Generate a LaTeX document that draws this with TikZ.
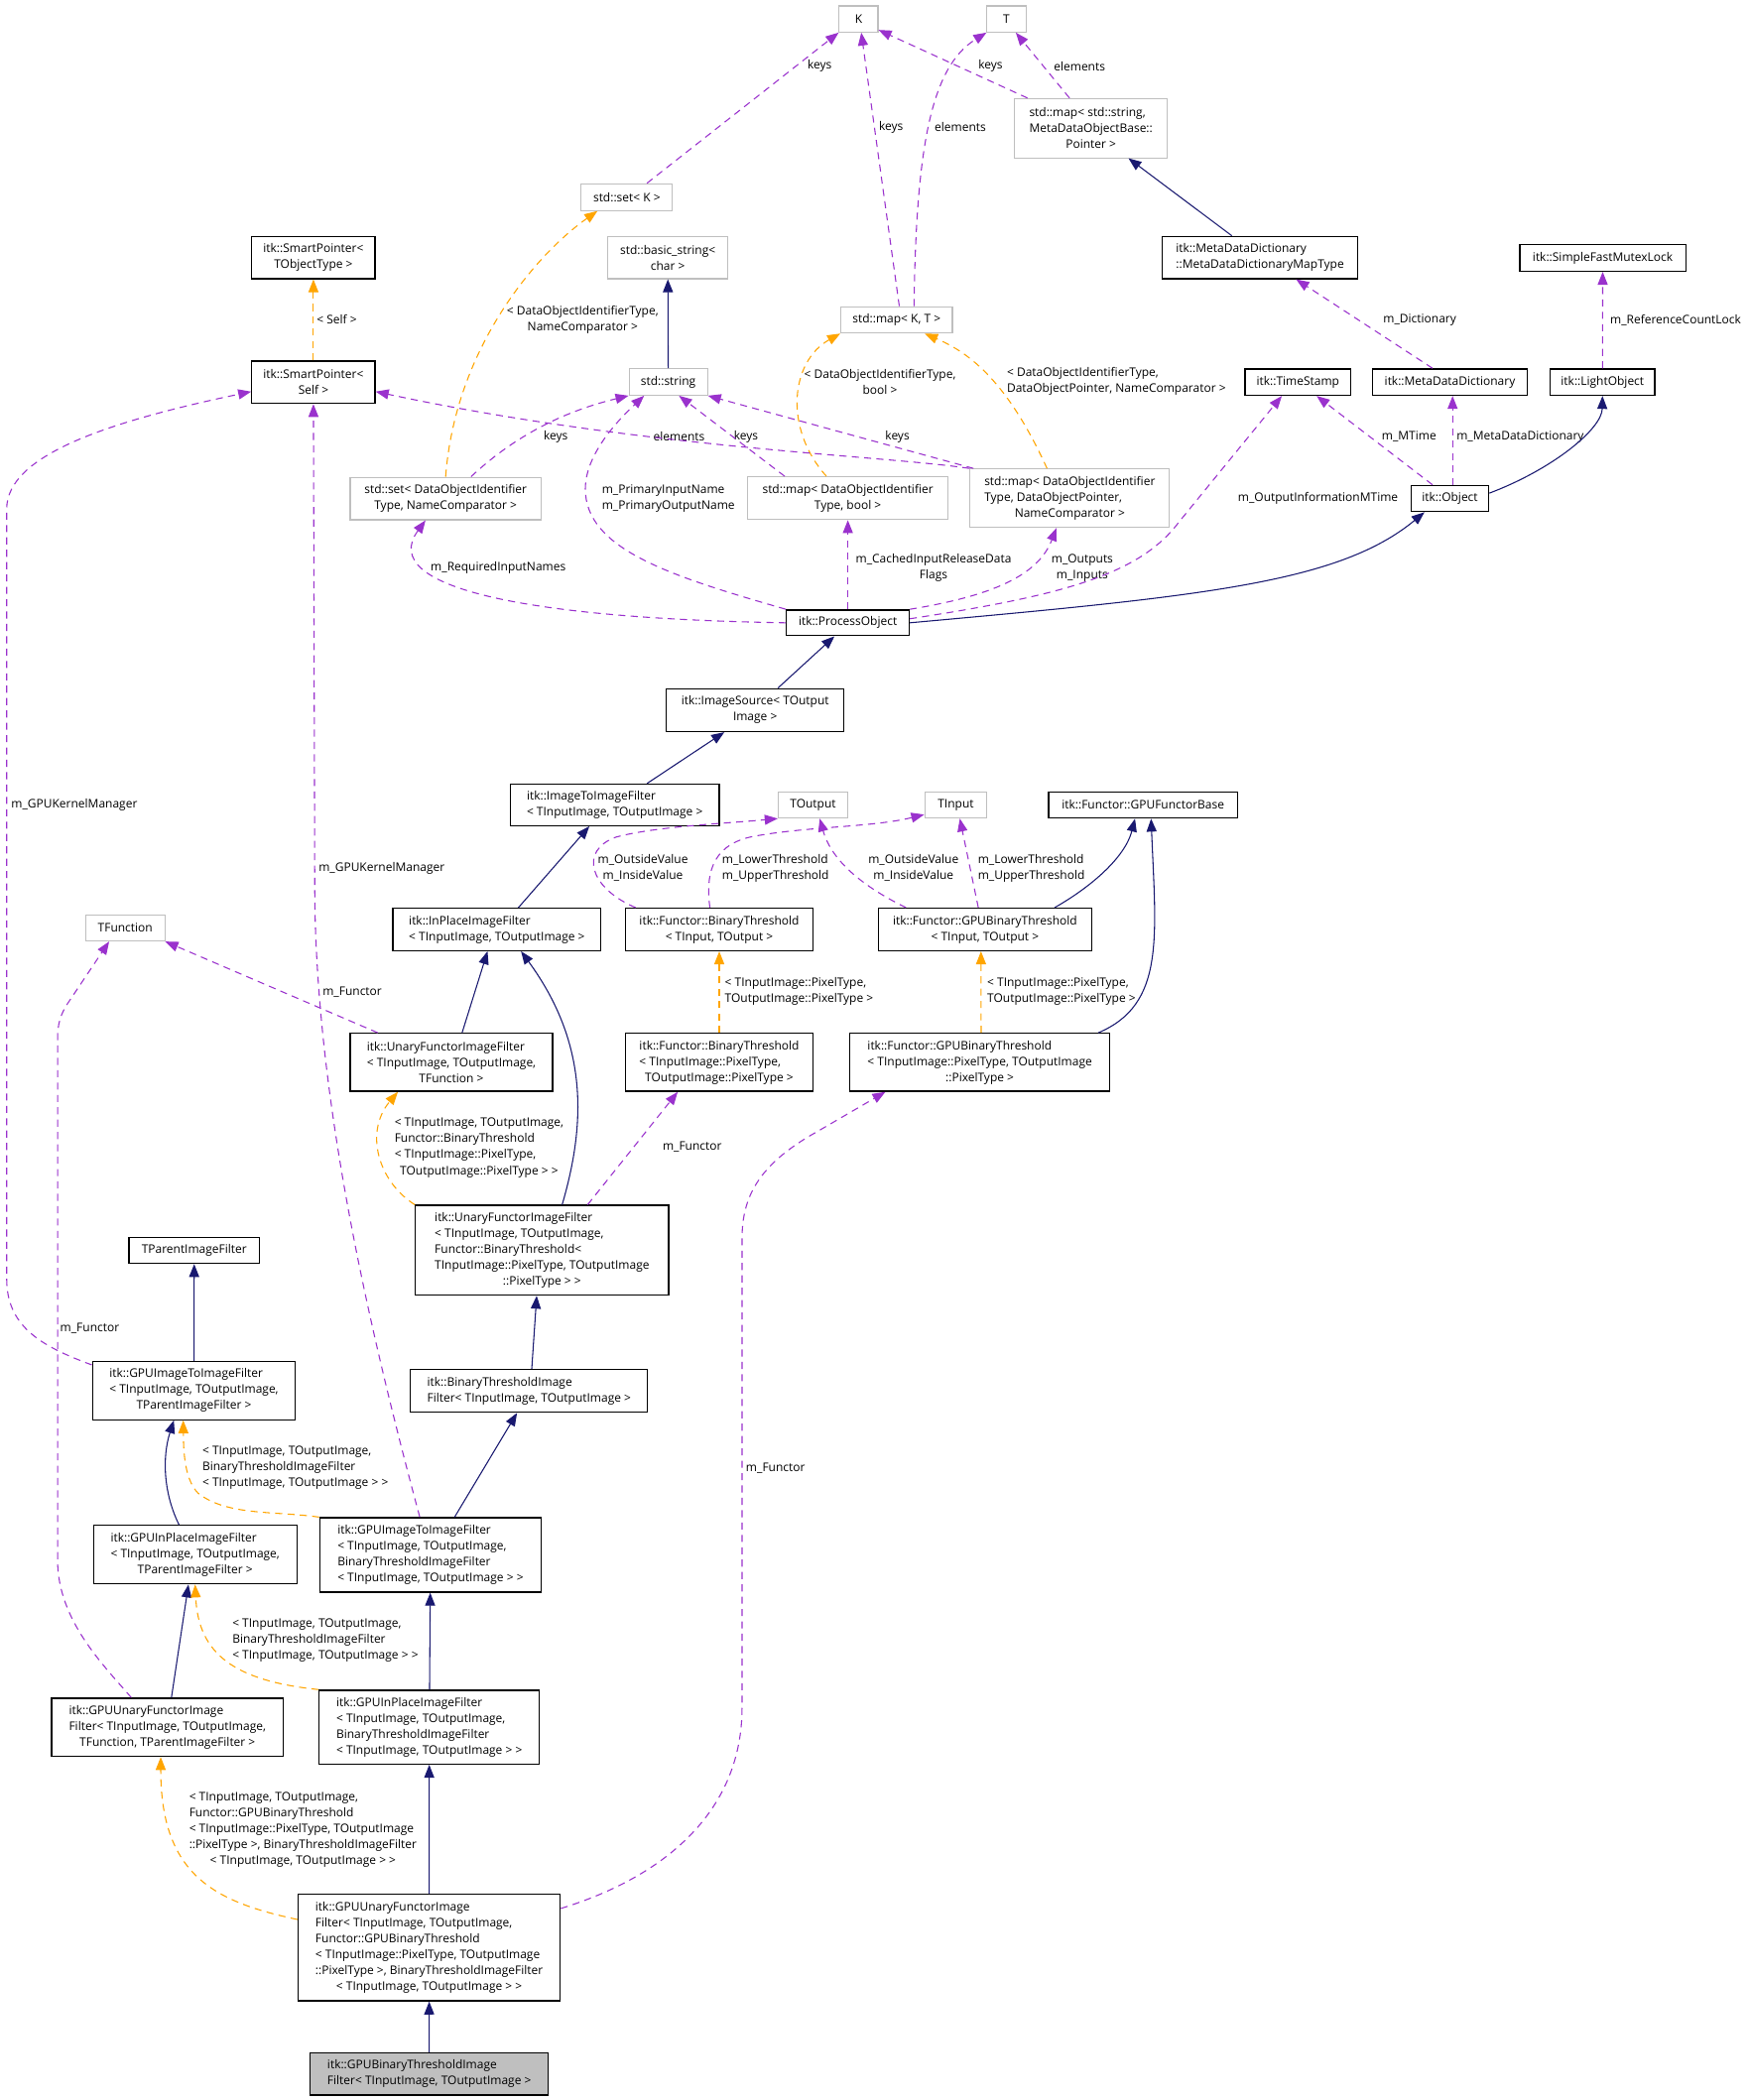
\documentclass[tikz,border=0pt]{standalone}
\usepackage{fontspec}
\setmainfont{Open Sans}
\usepackage{tikz}
\usetikzlibrary{calc,arrows.meta}
\usepackage{xcolor}
\definecolor{inhblue}{HTML}{191970}
\definecolor{usepurple}{HTML}{9A32CD}
\definecolor{tplorange}{HTML}{FFA500}
\definecolor{extgray}{HTML}{BFBFBF}

\begin{document}
\begin{tikzpicture}[x=0.04cm,y=-0.04cm,font=\fontsize{10.1}{13.5}\selectfont,
  cls/.style={draw=black,line width=1.1pt,fill=white,inner sep=0pt,align=left},
  ext/.style={draw=extgray,line width=0.9pt,fill=white,inner sep=0pt,align=left},
  sel/.style={cls,fill=extgray},
  sz/.style 2 args={minimum width={#1*0.04cm},minimum height={#2*0.04cm}},
  lbl/.style={inner sep=0pt,align=left},
  inh/.style={draw=inhblue,line width=0.9pt,-{Triangle[length=11pt,width=8.5pt]}},
  use/.style={draw=usepurple,line width=0.9pt,dash pattern=on 6pt off 4.5pt,-{Triangle[length=11pt,width=8.5pt]}},
  tpl/.style={draw=tplorange,line width=0.9pt,dash pattern=on 6pt off 4.5pt,-{Triangle[length=11pt,width=8.5pt]}}]
\path[use as bounding box,fill=white] (0,0) rectangle (1306,1568);

\node[ext,sz={29}{19.5}] (K) at (641,14.2) {K};
\node[ext,sz={29}{19.5}] (T) at (751.4,14.2) {T};
\node[ext,sz={114}{44.2}] (mapSS) at (814.5,95.7) {std::map< std::string,\\MetaDataObjectBase::\\\hfil Pointer >};
\node[ext,sz={68}{20}] (setK) at (468,147.2) {std::set< K >};
\node[ext,sz={90}{31.6}] (basicstr) at (498.6,192.3) {std::basic\_string<\\\hfil char >};
\node[cls,sz={92}{31.6}] (spT) at (234,192.3) {itk::SmartPointer<\\\hfil TObjectType >};
\node[cls,sz={145.7}{31.6}] (mapType) at (940.7,192.3) {itk::MetaDataDictionary\\\hfil ::MetaDataDictionaryMapType};
\node[cls,sz={124}{19.8}] (mutex) at (1196.6,192.6) {itk::SimpleFastMutexLock};
\node[ext,sz={83.3}{19.7}] (mapKT) at (669.4,238.8) {std::map< K, T >};
\node[cls,sz={92}{31.6}] (spSelf) at (234,285.4) {itk::SmartPointer<\\\hfil Self >};
\node[ext,sz={58.5}{19.7}] (str) at (498.9,285.2) {std::string};
\node[cls,sz={79}{19.7}] (tstamp) at (969,285.3) {itk::TimeStamp};
\node[cls,sz={115.7}{19.7}] (mdd) at (1082.5,285.3) {itk::MetaDataDictionary};
\node[cls,sz={78}{19.7}] (lobj) at (1196.4,285.3) {itk::LightObject};
\node[ext,sz={142.5}{31.8}] (setDOI) at (332.7,372.2) {std::set< DataObjectIdentifier\\\hfil Type, NameComparator >};
\node[ext,sz={149.5}{32}] (mapBool) at (633,372) {std::map< DataObjectIdentifier\\\hfil Type, bool >};
\node[ext,sz={149}{43.7}] (mapDOP) at (798.7,372) {std::map< DataObjectIdentifier\\Type, DataObjectPointer,\\\hfil NameComparator >};
\node[cls,sz={58}{19.5}] (obj) at (1082.5,372.2) {itk::Object};
\node[cls,sz={91.6}{19.2}] (procObj) at (633,465) {itk::ProcessObject};
\node[cls,sz={132.6}{32}] (imgSrc) at (563.8,530.2) {itk::ImageSource< TOutput\\\hfil Image >};
\node[cls,sz={156}{31}] (i2i) at (459,601) {itk::ImageToImageFilter\\\hfil < TInputImage, TOutputImage >};
\node[ext,sz={52}{19.6}] (tout) at (607,601) {TOutput};
\node[ext,sz={46.4}{19.6}] (tin) at (713.6,601) {TInput};
\node[cls,sz={141}{19.6}] (gpuFB) at (853.4,601) {itk::Functor::GPUFunctorBase};
\node[ext,sz={59}{19.2}] (tfunc) at (93.5,693) {TFunction};
\node[cls,sz={155.2}{31.6}] (inplace) at (371,694) {itk::InPlaceImageFilter\\\hfil < TInputImage, TOutputImage >};
\node[cls,sz={140}{31.7}] (btT) at (537,694) {itk::Functor::BinaryThreshold\\\hfil < TInput, TOutput >};
\node[cls,sz={159}{31.7}] (gbtT) at (735.4,694) {itk::Functor::GPUBinaryThreshold\\\hfil < TInput, TOutput >};
\node[cls,sz={151}{43.2}] (ufT) at (337,793.2) {itk::UnaryFunctorImageFilter\\< TInputImage, TOutputImage,\\\hfil TFunction >};
\node[cls,sz={140}{43.2}] (btP) at (537,793.2) {itk::Functor::BinaryThreshold\\< TInputImage::PixelType,\\\hfil TOutputImage::PixelType >};
\node[cls,sz={194}{43.2}] (gbtP) at (731.5,793.2) {itk::Functor::GPUBinaryThreshold\\< TInputImage::PixelType, TOutputImage\\\hfil ::PixelType >};
\node[cls,sz={189}{67}] (ufB) at (404.7,933.5) {itk::UnaryFunctorImageFilter\\< TInputImage, TOutputImage,\\Functor::BinaryThreshold<\\TInputImage::PixelType, TOutputImage\\\hfil ::PixelType > >};
\node[cls,sz={97.6}{19.4}] (tparent) at (145,933.6) {TParentImageFilter};
\node[cls,sz={177}{32}] (btif) at (395,1038.5) {itk::BinaryThresholdImage\\\hfil Filter< TInputImage, TOutputImage >};
\node[cls,sz={151.5}{43.4}] (g2iT) at (144.8,1038.3) {itk::GPUImageToImageFilter\\< TInputImage, TOutputImage,\\\hfil TParentImageFilter >};
\node[cls,sz={151.8}{43.6}] (gipT) at (145.7,1160.8) {itk::GPUInPlaceImageFilter\\< TInputImage, TOutputImage,\\\hfil TParentImageFilter >};
\node[cls,sz={165.3}{55.5}] (g2iB) at (321.4,1161) {itk::GPUImageToImageFilter\\< TInputImage, TOutputImage,\\BinaryThresholdImageFilter\\\hfil < TInputImage, TOutputImage > >};
\node[cls,sz={173}{43.4}] (gufT) at (125,1289.7) {itk::GPUUnaryFunctorImage\\Filter< TInputImage, TOutputImage,\\\hfil TFunction, TParentImageFilter >};
\node[cls,sz={164.6}{55.2}] (gipB) at (320.5,1289.6) {itk::GPUInPlaceImageFilter\\< TInputImage, TOutputImage,\\BinaryThresholdImageFilter\\\hfil < TInputImage, TOutputImage > >};
\node[cls,sz={195.7}{79.5}] (gufB) at (320.4,1454.2) {itk::GPUUnaryFunctorImage\\Filter< TInputImage, TOutputImage,\\Functor::GPUBinaryThreshold\\< TInputImage::PixelType, TOutputImage\\::PixelType >, BinaryThresholdImageFilter\\\hfil < TInputImage, TOutputImage > >};
\node[sel,sz={177.8}{31.5}] (gbtif) at (320.5,1548.5) {itk::GPUBinaryThresholdImage\\\hfil Filter< TInputImage, TOutputImage >};

\node[lbl] (lKeysA) at (612,49.4) {keys};
\node[lbl] (lKeysB) at (739.5,49.4) {keys};
\node[lbl] (lElemA) at (806,49.4) {elements};
\node[lbl] (lKeysC) at (665.3,95.1) {keys};
\node[lbl] (lElemB) at (717,95.1) {elements};
\node[lbl] (lSelf) at (251.5,238.6) {< Self >};
\node[lbl] (lSetK) at (435,239) {< DataObjectIdentifierType,\\\hfil NameComparator >};
\node[lbl] (lMapBool) at (657,285) {< DataObjectIdentifierType,\\\hfil bool >};
\node[lbl] (lMapDOP) at (833.5,285) {< DataObjectIdentifierType,\\\hfil DataObjectPointer, NameComparator >};
\node[lbl] (lDict) at (1060,239) {m\_Dictionary};
\node[lbl] (lLock) at (1251,239) {m\_ReferenceCountLock};
\node[lbl] (lKeysD) at (415,326) {keys};
\node[lbl] (lElemC) at (507,326) {elements};
\node[lbl] (lKeysE) at (557,326) {keys};
\node[lbl] (lKeysF) at (670,326) {keys};
\node[lbl] (lMTime) at (1052,326) {m\_MTime};
\node[lbl] (lMdd) at (1135,326) {m\_MetaDataDictionary};
\node[lbl] (lReq) at (372,424) {m\_RequiredInputNames};
\node[lbl] (lPrim) at (499,372) {m\_PrimaryInputName\\\hfil m\_PrimaryOutputName};
\node[lbl] (lCached) at (697,424) {m\_CachedInputReleaseData\\\hfil Flags};
\node[lbl] (lOutputs) at (808,424) {m\_Outputs\\\hfil m\_Inputs};
\node[lbl] (lOutInfo) at (984,372) {m\_OutputInformationMTime};
\node[lbl] (lValA) at (480,648) {m\_OutsideValue\\\hfil m\_InsideValue};
\node[lbl] (lThrA) at (579,648) {m\_LowerThreshold\\\hfil m\_UpperThreshold};
\node[lbl] (lValB) at (682,648) {m\_OutsideValue\\\hfil m\_InsideValue};
\node[lbl] (lThrB) at (770,648) {m\_LowerThreshold\\\hfil m\_UpperThreshold};
\node[lbl] (lFunA) at (263,741) {m\_Functor};
\node[lbl] (lPixA) at (596.6,740.4) {< TInputImage::PixelType,\\\hfil TOutputImage::PixelType >};
\node[lbl] (lPixB) at (792.5,740.4) {< TInputImage::PixelType,\\\hfil TOutputImage::PixelType >};
\node[lbl] (lUf) at (357.7,857) {< TInputImage, TOutputImage,\\Functor::BinaryThreshold\\< TInputImage::PixelType,\\\hfil TOutputImage::PixelType > >};
\node[lbl] (lFunB) at (516.8,856.2) {m\_Functor};
\node[lbl] (lKernA) at (55.5,601) {m\_GPUKernelManager};
\node[lbl] (lKernB) at (285,648) {m\_GPUKernelManager};
\node[lbl] (lFunC) at (67,992) {m\_Functor};
\node[lbl] (lG2i) at (220.5,1096) {< TInputImage, TOutputImage,\\BinaryThresholdImageFilter\\\hfil < TInputImage, TOutputImage > >};
\node[lbl] (lGip) at (242.9,1224.7) {< TInputImage, TOutputImage,\\BinaryThresholdImageFilter\\\hfil < TInputImage, TOutputImage > >};
\node[lbl] (lGuf) at (226.2,1366) {< TInputImage, TOutputImage,\\Functor::GPUBinaryThreshold\\< TInputImage::PixelType, TOutputImage\\::PixelType >, BinaryThresholdImageFilter\\\hfil < TInputImage, TOutputImage > >};
\node[lbl] (lFunD) at (579,1096) {m\_Functor};

\draw[use] ($(setK.north)+(15,0)$) -- (K.south west);
\draw[use] ($(mapSS.north west)+(10,0)$) -- ($(K.south east)+(0,-2)$);
\draw[use] ($(mapSS.north)+(-16,0)$) -- ($(T.south)+(7,0)$);
\draw[use] ($(mapKT.north)+(2,0)$) -- ($(K.south)+(2,0)$);
\draw[use] ($(mapKT.north)+(13,0)$) .. controls (684,110) and (695,50) .. (T.south west);
\draw[inh] ($(mapType.north)+(-21,0)$) -- ($(mapSS.south)+(28,0)$);
\draw[tpl] (spSelf) -- (spT);
\draw[tpl] (setDOI.north) .. controls (340,260) and (400,190) .. ($(setK.south)+(-22,0)$);
\draw[inh] (str) -- (basicstr);
\draw[tpl] ($(mapBool.north)+(-16,0)$) .. controls (585,320) and (590,270) .. (mapKT.south west);
\draw[tpl] ($(mapDOP.north)+(-17,0)$) .. controls (750,280) and (720,262) .. ($(mapKT.south east)+(-21,0)$);
\draw[use] ($(mdd.north)+(-13,0)$) -- ($(mapType.south)+(27,0)$);
\draw[use] (lobj) -- (mutex);
\draw[use] ($(setDOI.north)+(19,0)$) .. controls (390,320) and (430,305) .. (str.south west);
\draw[use] (mapDOP.north west) .. controls (660,340) and (480,335) .. ($(spSelf.east)+(0,7)$);
\draw[use] ($(mapBool.north west)+(28,0)$) -- ($(str.south)+(8,0)$);
\draw[use] ($(mapDOP.north west)+(3,0)$) -- (str.south east);
\draw[use] ($(obj.north)+(-13,0)$) -- ($(tstamp.south)+(14,0)$);
\draw[use] ($(obj.north)+(2,0)$) -- ($(mdd.south)+(2,0)$);
\draw[inh] ($(obj.east)+(0,-4)$) .. controls (1160,350) and (1196,320) .. (lobj.south);

\draw[use] (procObj.west) .. controls (400,462) and (280,440) .. ($(setDOI.south)+(-15,0)$);
\draw[use] (procObj.north west) .. controls (500,430) and (437,410) .. (437,365)
  .. controls (437,340) and (460,315) .. ($(str.south)+(-18,0)$);
\draw[use] (procObj) -- (mapBool);
\draw[use] (procObj.north east) .. controls (740,445) and (775,430) .. ($(mapDOP.south)+(-10,0)$);
\draw[use] ($(procObj.east)+(0,-3)$) .. controls (790,445) and (850,430) .. (880,390) -- ($(tstamp.south)+(-12,0)$);
\draw[inh] (procObj.east) .. controls (900,445) and (1000,435) .. ($(obj.south)+(-19,0)$);
\draw[inh] ($(imgSrc.north)+(17,0)$) -- ($(procObj.south)+(-10,0)$);
\draw[inh] ($(i2i.north)+(24,0)$) -- ($(imgSrc.south)+(-23,0)$);
\draw[inh] ($(inplace.north)+(16,0)$) -- ($(i2i.south)+(-19,0)$);

\draw[use] ($(btT.north west)+(8,0)$) .. controls (440,663) and (432,635) .. (460,625)
  .. controls (490,617) and (540,615) .. (tout.south west);
\draw[use] ($(btT.north)+(-7,0)$) .. controls (527,655) and (530,632) .. (560,625)
  .. controls (600,617) and (650,618) .. ($(tin.south west)+(0,-3)$);
\draw[use] ($(gbtT.north west)+(21,0)$) .. controls (640,660) and (620,640) .. ($(tout.south)+(5,0)$);
\draw[use] ($(gbtT.north)+(-5,0)$) -- ($(tin.south)+(3,0)$);
\draw[inh] ($(gbtT.north east)+(-28,0)$) .. controls (815,662) and (840,640) .. ($(gpuFB.south)+(-6,0)$);
\draw[use] ($(ufT.north west)+(21,0)$) -- (tfunc.south east);
\draw[inh] ($(ufT.north)+(8,0)$) -- ($(inplace.south)+(-7,0)$);
\draw[tpl] (btP) -- (btT);
\draw[tpl] ($(gbtP.north)+(1,0)$) -- ($(gbtT.south)+(-3,0)$);
\draw[inh] ($(gbtP.north east)+(-9,0)$) .. controls (870,750) and (863,700) .. ($(gpuFB.south)+(6,0)$);

\draw[tpl] (ufB.north west) .. controls (282,882) and (272,845) .. ($(ufT.south west)+(36,0)$);
\draw[inh] ($(ufB.north)+(15,0)$) .. controls (437,840) and (440,780) .. ($(inplace.south)+(18,0)$);
\draw[use] ($(ufB.north)+(34,0)$) -- ($(btP.south)+(-31,0)$);
\draw[inh] ($(btif.north)+(2,0)$) -- ($(ufB.south)+(-4,0)$);
\draw[inh] (g2iT) -- (tparent);
\draw[use] ($(g2iT.north west)+(0,3)$) .. controls (30,1005) and (5,990) .. (5,955) -- (5,380)
  .. controls (5,340) and (80,315) .. ($(spSelf.west)+(0,7)$);
\draw[tpl] (g2iB.north west) .. controls (205,1128) and (170,1132) .. (148,1115)
  .. controls (138,1105) and (137,1085) .. ($(g2iT.south)+(-8,0)$);
\draw[inh] ($(g2iB.north)+(18,0)$) -- ($(btif.south)+(-9,0)$);
\draw[use] ($(g2iB.north)+(-8,0)$) .. controls (275,990) and (236,820) .. (235,667) -- (spSelf.south);
\draw[inh] ($(gipT.north)+(-12,0)$) .. controls (122,1115) and (121,1088) .. ($(g2iT.south)+(-15,0)$);
\draw[inh] ($(gufT.north)+(3,0)$) -- ($(gipT.south)+(-5,0)$);
\draw[use] ($(gufT.north)+(-27,0)$) .. controls (78,1244) and (43,1210) .. (43,1165) -- (43,775)
  .. controls (43,765) and (45,758) .. (50,750) -- ($(tfunc.south)+(-12,0)$);
\draw[inh] (gipB) -- (g2iB);
\draw[tpl] (gipB.north west) .. controls (175,1255) and (148,1235) .. (gipT.south);
\draw[tpl] ($(gufB.west)+(0,-21)$) .. controls (160,1420) and (120,1400) .. ($(gufT.south)+(-5,0)$);
\draw[inh] (gufB) -- (gipB);
\draw[use] ($(gufB.north east)+(0,11)$) .. controls (500,1400) and (554,1350) .. (554,1275) -- (554,925)
  .. controls (554,895) and (565,870) .. (610,845) -- ($(gbtP.south west)+(27,0)$);
\draw[inh] (gbtif) -- (gufB);
\end{tikzpicture}
\end{document}
